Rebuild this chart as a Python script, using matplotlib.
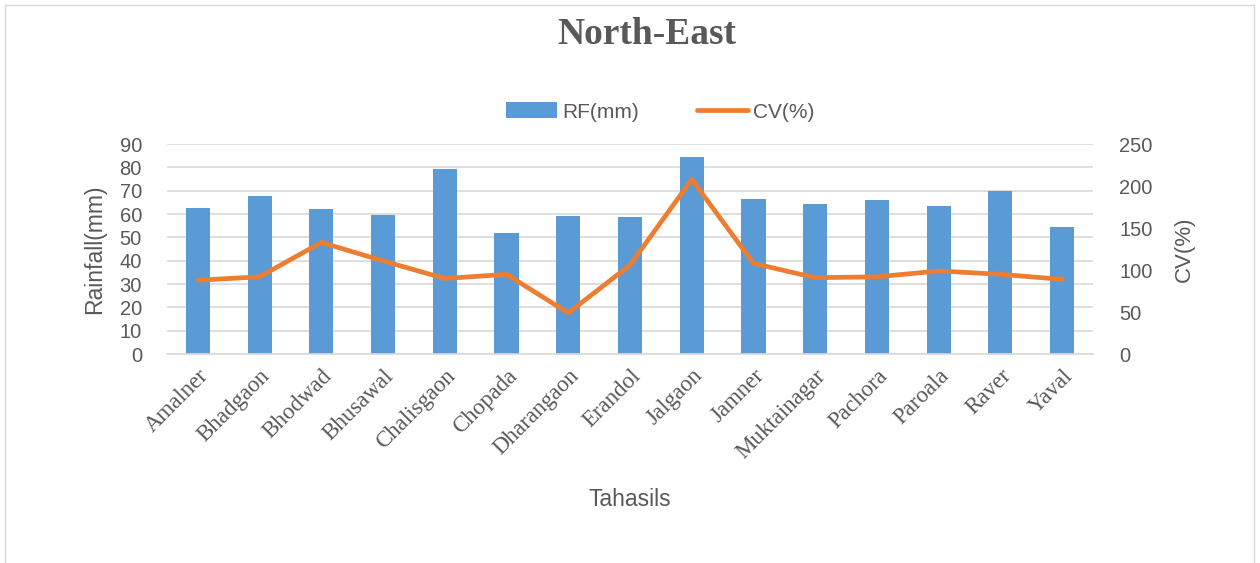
import matplotlib
matplotlib.use("Agg")
import matplotlib.pyplot as plt
from matplotlib.lines import Line2D
from matplotlib.patches import Patch
import numpy as np

tahasils = ["Amalner", "Bhadgaon", "Bhodwad", "Bhusawal", "Chalisgaon", "Chopada",
            "Dharangaon", "Erandol", "Jalgaon", "Jamner", "Muktainagar", "Pachora",
            "Paroala", "Raver", "Yaval"]
rf_mm = [62.7, 67.8, 62.4, 59.7, 79.3, 51.7, 59.4, 58.9, 84.3, 66.4, 64.4, 66.0, 63.3, 70.0, 54.6]
cv_pct = [88, 92, 133, 111, 90, 95, 49, 106, 208, 108, 91, 92, 99, 95, 89]

BAR = "#5B9BD5"
LINE = "#ED7D31"
GRAY = "#595959"
GRID = "#D9D9D9"

fig = plt.figure(figsize=(12.6, 5.63), dpi=100)
ax = fig.add_axes([0.1325, 0.371, 0.735, 0.373])
ax2 = ax.twinx()

x = np.arange(len(tahasils))
ax.bar(x, rf_mm, width=0.39, color=BAR, zorder=2)
ax2.plot(x, cv_pct, color=LINE, lw=3.4, solid_capstyle="round", solid_joinstyle="round", zorder=3)

ax.set_xlim(-0.5, len(tahasils) - 0.5)
ax.set_ylim(0, 90)
ax.set_yticks(range(0, 91, 10))
ax2.set_ylim(0, 250)
ax2.set_yticks(range(0, 251, 50))

ax.yaxis.grid(True, color=GRID, lw=1.2, zorder=0)
ax.set_axisbelow(True)
for a in (ax, ax2):
    for s in a.spines.values():
        s.set_visible(False)
    a.tick_params(length=0, colors=GRAY, labelsize=14.5)
ax.spines["bottom"].set_visible(True)
ax.spines["bottom"].set_color(GRID)
ax.spines["bottom"].set_linewidth(1.2)

for lbl in ax.get_yticklabels() + ax2.get_yticklabels():
    lbl.set_family("Liberation Sans")
ax.tick_params(axis="y", pad=18)
ax2.tick_params(axis="y", pad=19)

ax.set_xticks(x)
ax.set_xticklabels(tahasils, rotation=45, ha="right", rotation_mode="anchor",
                   family="Liberation Serif", fontsize=16.5, color=GRAY)
ax.tick_params(axis="x", pad=8)

ax.set_ylabel("Rainfall(mm)", family="Liberation Sans", fontsize=16.5, color=GRAY, labelpad=10)
ax2.set_ylabel("CV(%)", family="Liberation Sans", fontsize=16, color=GRAY, labelpad=15)
fig.text(0.5, 1 - 500 / 563, "Tahasils", ha="center", va="center",
         family="Liberation Sans", fontsize=16.5, color=GRAY)

fig.text(0.513, 1 - 34 / 563, "North-East", ha="center", va="center",
         family="Liberation Serif", fontweight="bold", fontsize=27, color=GRAY)

handles = [Patch(facecolor=BAR, edgecolor="none"),
           Line2D([0], [0], color=LINE, lw=3.4, solid_capstyle="round")]
leg = fig.legend(handles, ["RF(mm)", "CV(%)"], loc="center", bbox_to_anchor=(0.524, 1 - 112 / 563),
                 ncol=2, frameon=False, handlelength=2.45, handleheight=0.8, columnspacing=2.75,
                 handletextpad=0.25, prop={"family": "Liberation Sans", "size": 15})
for t in leg.get_texts():
    t.set_color(GRAY)

# outer chart border
for xs, ys in [([0.004, 0.004], [0, 0.991]), ([0.004, 0.995], [0.991, 0.991]), ([0.995, 0.995], [0, 0.991])]:
    fig.add_artist(Line2D(xs, ys, color="#D9D9D9", lw=1, transform=fig.transFigure))

fig.savefig("out.png", dpi=100)
